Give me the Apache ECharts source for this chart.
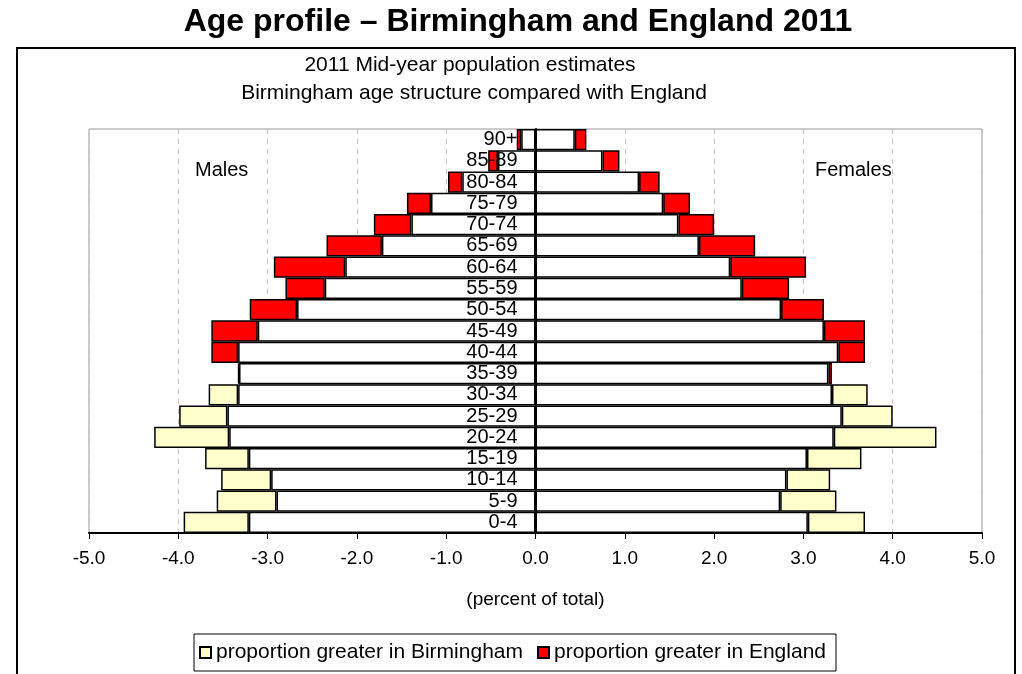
<!DOCTYPE html>
<html>
<head>
<meta charset="utf-8">
<title>Age profile – Birmingham and England 2011</title>
<script src="https://cdn.jsdelivr.net/npm/echarts@6/dist/echarts.min.js"></script>
<style>
  html, body { margin: 0; padding: 0; background: #fff; }
  #chart { width: 1022px; height: 674px; }
</style>
</head>
<body>
<div id="chart"></div>
<script>
// Five-year age bands, youngest first (drawn bottom to top)
const ageGroups = ['0-4', '5-9', '10-14', '15-19', '20-24', '25-29', '30-34', '35-39', '40-44',
  '45-49', '50-54', '55-59', '60-64', '65-69', '70-74', '75-79', '80-84', '85-89', '90+'];

// Share of total population (%) in each band, 2011 mid-year estimates
const birminghamMales = [3.94, 3.57, 3.52, 3.70, 4.27, 3.99, 3.66, 3.32, 3.33, 3.11,
  2.67, 2.36, 2.13, 1.72, 1.39, 1.17, 0.82, 0.42, 0.16];
const englandMales = [3.21, 2.90, 2.96, 3.21, 3.43, 3.45, 3.33, 3.33, 3.63, 3.63,
  3.20, 2.80, 2.93, 2.34, 1.81, 1.44, 0.98, 0.53, 0.21];
const birminghamFemales = [3.69, 3.37, 3.30, 3.65, 4.49, 4.00, 3.72, 3.28, 3.39, 3.23,
  2.75, 2.31, 2.18, 1.83, 1.60, 1.43, 1.16, 0.75, 0.44];
const englandFemales = [3.05, 2.74, 2.81, 3.04, 3.34, 3.43, 3.32, 3.32, 3.69, 3.69,
  3.23, 2.84, 3.03, 2.46, 2.00, 1.73, 1.39, 0.94, 0.57];

const axisTicks = [-5, -4, -3, -2, -1, 0, 1, 2, 3, 4, 5];

const BHAM_NAME = 'proportion greater in Birmingham';
const ENG_NAME = 'proportion greater in England';
const FONT = "'Liberation Sans', Arial, sans-serif";

// Plot rectangle
const GRID_LEFT = 89, GRID_RIGHT = 40, GRID_TOP = 129, GRID_BOTTOM = 141;
const PLOT_WIDTH = 1022 - GRID_LEFT - GRID_RIGHT;

// Common part, plus the excess on whichever side is larger; males plotted as negatives
const round = v => Math.round(v * 100) / 100;
function split(bham, eng, sign) {
  const common = bham.map((b, i) => round(sign * Math.min(b, eng[i])));
  const moreBham = bham.map((b, i) => b > eng[i] ? round(sign * (b - eng[i])) : '-');
  const moreEng = bham.map((b, i) => eng[i] > b ? round(sign * (eng[i] - b)) : '-');
  return { common, moreBham, moreEng };
}
const males = split(birminghamMales, englandMales, -1);
const females = split(birminghamFemales, englandFemales, 1);

const barBase = {
  type: 'bar',
  stack: 'pyramid',
  barCategoryGap: '0%',
  animation: false,
  emphasis: { disabled: true }
};
const style = color => ({ color: color, borderColor: '#000', borderWidth: 1.5 });

// Age labels sit just left of the zero line, so shift them in from the grid edge
const xMin = axisTicks[0], xMax = axisTicks[axisTicks.length - 1];
const zeroOffset = PLOT_WIDTH * (0 - xMin) / (xMax - xMin);
const labelMargin = 18 - zeroOffset;

const chart = echarts.init(document.getElementById('chart'), null, { renderer: 'canvas' });

chart.setOption({
  backgroundColor: '#fff',
  textStyle: { fontFamily: FONT },
  grid: {
    left: GRID_LEFT, right: GRID_RIGHT, top: GRID_TOP, bottom: GRID_BOTTOM,
    show: true, borderColor: '#999', borderWidth: 1
  },
  legend: {
    data: [BHAM_NAME, ENG_NAME],
    left: 194, top: 634,
    padding: [8, 10, 8, 5],
    itemWidth: 11, itemHeight: 11, itemGap: 14,
    icon: 'rect',
    borderColor: '#000', borderWidth: 1,
    selectedMode: false,
    textStyle: { fontSize: 21, color: '#000', fontFamily: FONT }
  },
  xAxis: {
    type: 'value',
    min: xMin, max: xMax, interval: 1,
    name: '(percent of total)',
    nameLocation: 'middle', nameGap: 57,
    nameTextStyle: { fontSize: 19, color: '#000', fontFamily: FONT },
    axisLine: { show: true, lineStyle: { color: '#000', width: 2 } },
    axisTick: { show: true, length: 6, lineStyle: { color: '#000', width: 1 } },
    axisLabel: {
      fontSize: 19, color: '#000', margin: 16, fontFamily: FONT,
      formatter: v => v.toFixed(1)
    },
    splitLine: { show: true, lineStyle: { color: '#c4c4c4', width: 1, type: [5, 5] } }
  },
  yAxis: {
    type: 'category',
    data: ageGroups,
    z: 5,
    axisLine: { show: true, onZero: true, lineStyle: { color: '#000', width: 2 } },
    axisTick: { show: false },
    axisLabel: {
      interval: 0, fontSize: 20, color: '#000', margin: labelMargin,
      align: 'right', fontFamily: FONT
    },
    splitLine: { show: false }
  },
  series: [
    Object.assign({}, barBase, { name: 'males common', data: males.common, itemStyle: style('#ffffff') }),
    Object.assign({}, barBase, { name: 'females common', data: females.common, itemStyle: style('#ffffff') }),
    Object.assign({}, barBase, { name: BHAM_NAME, data: males.moreBham, itemStyle: style('#ffffcc') }),
    Object.assign({}, barBase, { name: BHAM_NAME, data: females.moreBham, itemStyle: style('#ffffcc') }),
    Object.assign({}, barBase, { name: ENG_NAME, data: males.moreEng, itemStyle: style('#ff0000') }),
    Object.assign({}, barBase, { name: ENG_NAME, data: females.moreEng, itemStyle: style('#ff0000') })
  ],
  graphic: [
    {
      type: 'rect', z: -1, silent: true,
      shape: { x: 17, y: 48, width: 998, height: 640 },
      style: { fill: 'none', stroke: '#000', lineWidth: 2 }
    },
    {
      type: 'text', silent: true, x: 518, y: 22,
      style: {
        text: 'Age profile – Birmingham and England 2011',
        font: "bold 32px 'Liberation Sans', Arial, sans-serif",
        fill: '#000', align: 'center', verticalAlign: 'middle'
      }
    },
    {
      type: 'text', silent: true, x: 470, y: 65,
      style: {
        text: '2011 Mid-year population estimates',
        font: "21px 'Liberation Sans', Arial, sans-serif",
        fill: '#000', align: 'center', verticalAlign: 'middle'
      }
    },
    {
      type: 'text', silent: true, x: 474, y: 93,
      style: {
        text: 'Birmingham age structure compared with England',
        font: "21px 'Liberation Sans', Arial, sans-serif",
        fill: '#000', align: 'center', verticalAlign: 'middle'
      }
    },
    {
      type: 'text', silent: true, x: 195, y: 170,
      style: {
        text: 'Males',
        font: "20px 'Liberation Sans', Arial, sans-serif",
        fill: '#000', align: 'left', verticalAlign: 'middle'
      }
    },
    {
      type: 'text', silent: true, x: 815, y: 170,
      style: {
        text: 'Females',
        font: "20px 'Liberation Sans', Arial, sans-serif",
        fill: '#000', align: 'left', verticalAlign: 'middle'
      }
    }
  ]
});
</script>
</body>
</html>
